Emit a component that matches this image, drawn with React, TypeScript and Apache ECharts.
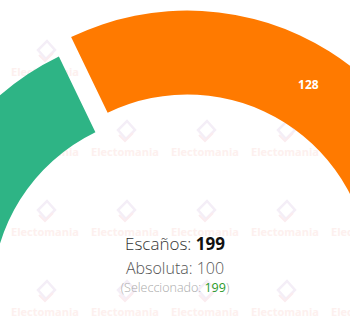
import React, { useEffect, useRef } from "react";
import * as echarts from "echarts";

const parties = ["Verde", "Naranja"];
const seats = [71, 128];
const colors = ["#2eb485", "#ff7a00"];
const selectedParty = [false, true];
const totalSeats = 199;
const majority = 100;
const selectedSeats = 199;
const watermarkText = "Electomania";

export default function App() {
  const ref = useRef<HTMLDivElement>(null);
  useEffect(() => {
    document.body.style.margin = "0";
    if (!ref.current) return;
    const chart = echarts.init(ref.current, null, { renderer: "svg" });

    const wm: any[] = [];
    for (let i = 0; i < 5; i++) {
      for (let j = 0; j < 4; j++) {
        const cx = 45 + 80 * i;
        const ty = 71 + 80 * j;
        wm.push({
          type: "polygon",
          z: 0,
          silent: true,
          shape: { points: [[cx + 2, ty - 30], [cx + 10, ty - 21], [cx + 1, ty - 12], [cx - 7, ty - 21]] },
          style: { fill: "none", stroke: "#f4eef7", lineWidth: 2.5 },
        });
        wm.push({
          type: "polyline",
          z: 0,
          silent: true,
          shape: { points: [[cx - 6, ty - 16], [cx, ty - 10], [cx + 8, ty - 18]] },
          style: { fill: "none", stroke: "#fbecef", lineWidth: 2 },
        });
        wm.push({
          type: "text",
          z: 0,
          silent: true,
          x: cx,
          y: ty,
          style: {
            text: watermarkText,
            fill: "#fdf0ee",
            font: "bold 11px 'Open Sans'",
            textAlign: "center",
            textVerticalAlign: "middle",
          },
        });
      }
    }

    const texts: any[] = [
      {
        type: "text",
        z: 10,
        x: 175,
        y: 243,
        style: {
          text: "{a|Escaños: }{b|" + totalSeats + "}",
          textAlign: "center",
          textVerticalAlign: "middle",
          rich: {
            a: { fontSize: 17, fontFamily: "Open Sans", fontWeight: 300, fill: "#333" },
            b: { fontSize: 17, fontFamily: "Open Sans", fontWeight: "bold", fill: "#111" },
          },
        },
      },
      {
        type: "text",
        z: 10,
        x: 175,
        y: 268,
        style: {
          text: "Absoluta: " + majority,
          textAlign: "center",
          textVerticalAlign: "middle",
          fill: "#555",
          font: "300 16px 'Open Sans'",
        },
      },
      {
        type: "text",
        z: 10,
        x: 175,
        y: 287,
        style: {
          text: "{a|(Seleccionado: }{b|" + selectedSeats + "}{a|)}",
          textAlign: "center",
          textVerticalAlign: "middle",
          rich: {
            a: { fontSize: 12.5, fontFamily: "Open Sans", fontWeight: 300, fill: "#aaa" },
            b: { fontSize: 12.5, fontFamily: "Open Sans", fill: "#2a9a2a" },
          },
        },
      },
    ];

    chart.setOption({
      animation: false,
      graphic: { elements: [...wm, ...texts] },
      series: [
        {
          type: "pie",
          z: 2,
          center: [175, 297],
          radius: [183, 267],
          startAngle: 180,
          endAngle: 360,
          selectedMode: "multiple",
          selectedOffset: 23,
          avoidLabelOverlap: false,
          label: {
            show: true,
            position: "inside",
            formatter: "{c}",
            color: "#fff",
            fontWeight: "bold",
            fontSize: 12,
            fontFamily: "Open Sans",
          },
          labelLine: { show: false },
          emphasis: { disabled: true },
          data: parties.map((p, i) => ({
            name: p,
            value: seats[i],
            selected: selectedParty[i],
            itemStyle: { color: colors[i] },
          })),
        },
      ],
    });
    return () => chart.dispose();
  }, []);
  return <div ref={ref} style={{ width: 350, height: 323 }} />;
}
